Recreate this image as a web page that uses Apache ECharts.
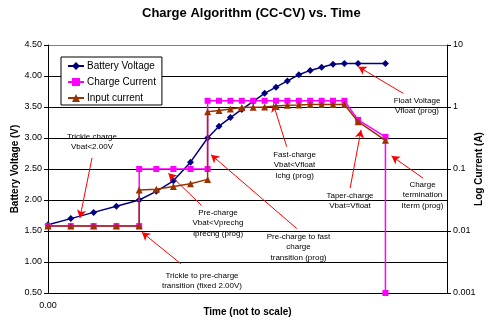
<!DOCTYPE html>
<html>
<head>
<meta charset="utf-8">
<script src="https://cdn.jsdelivr.net/npm/echarts@6/dist/echarts.min.js"></script>
<style>
html,body{margin:0;padding:0;background:#fff;}
#chart{width:492px;height:324px;}
</style>
</head>
<body>
<div id="chart"></div>
<script>
// ---- data ----
var batteryTime    = [0, 1, 2, 3, 4, 4.75, 5.5, 6.25, 7, 7.5, 8, 8.5, 9, 9.5, 10, 10.5, 11, 11.5, 12, 12.5, 13, 13.6, 14.8];
var batteryVoltage = [1.60, 1.70, 1.80, 1.90, 2.00, 2.14, 2.31, 2.61, 3.00, 3.19, 3.33, 3.46, 3.59, 3.72, 3.82, 3.92, 4.02, 4.09, 4.14, 4.19, 4.20, 4.20, 4.20];

var chargeTime    = [0, 1, 2, 3, 4, 4, 4.75, 5.5, 6.25, 7, 7, 7.5, 8, 8.5, 9, 9.5, 10, 10.5, 11, 11.5, 12, 12.5, 13, 13.6, 14.8, 14.8];
var chargeCurrent = [0.012, 0.012, 0.012, 0.012, 0.012, 0.1, 0.1, 0.1, 0.1, 0.1, 1.26, 1.26, 1.26, 1.26, 1.26, 1.26, 1.26, 1.26, 1.26, 1.26, 1.26, 1.26, 1.26, 0.62, 0.33, 0.001];

var inputTime    = [0, 1, 2, 3, 4, 4, 4.75, 5.5, 6.25, 7, 7, 7.5, 8, 8.5, 9, 9.5, 10, 10.5, 11, 11.5, 12, 12.5, 13, 13.6, 14.8];
var inputCurrent = [0.012, 0.012, 0.012, 0.012, 0.012, 0.046, 0.047, 0.052, 0.058, 0.068, 0.84, 0.88, 0.93, 0.98, 0.99, 1.00, 1.04, 1.07, 1.08, 1.10, 1.10, 1.10, 1.10, 0.58, 0.29];

var seriesNames = ['Battery Voltage', 'Charge Current', 'Input current'];
var voltageTicks = [0.5, 4.5, 0.5]; // min, max, step
var currentTicks = [0.001, 10];
var timeRange = [0, 17.5];

// annotation arrows in data coordinates [time, volts] : from -> to
var arrowFrom = [[1.93, 2.68], [6.74, 1.91], [5.83, 0.97], [10.91, 1.54], [10.47, 2.86], [15.58, 3.72], [13.25, 2.19], [16.46, 2.35]];
var arrowTo   = [[1.40, 1.71], [5.28, 2.43], [4.12, 1.48], [7.15, 2.73], [9.88, 3.55], [13.61, 4.15], [13.73, 3.13], [15.07, 2.71]];
var noteTexts = [
  'Trickle charge\nVbat<2.00V',
  'Pre-charge\nVbat<Vprechg\nIprechg (prog)',
  'Trickle to pre-charge\ntransition (fixed 2.00V)',
  'Pre-charge to fast\ncharge\ntransition (prog)',
  'Fast-charge\nVbat<Vfloat\nIchg (prog)',
  'Float Voltage\nVfloat (prog)',
  'Taper-charge\nVbat=Vfloat',
  'Charge\ntermination\nIterm (prog)'
];

function zip(xs, ys){ return xs.map(function(x,i){ return [x, ys[i]]; }); }

var FONT = '"Liberation Sans", Arial, sans-serif';
var chart = echarts.init(document.getElementById('chart'), null, {renderer:'canvas'});

// note text placement (layout only)
var notePos = [[92,131.5],[218,207.5],[202,270.5],[298.5,231.5],[294.5,149.5],[417,95.5],[350,190.5],[422.5,179.5]];

var graphics = noteTexts.map(function(t, i){
  return {
    type: 'text', x: notePos[i][0], y: notePos[i][1], z: 100, silent: true,
    style: { text: t, fill: '#000', font: '8px ' + FONT, align: 'center', verticalAlign: 'top', lineHeight: 10.5 }
  };
});

var arrowData = arrowFrom.map(function(f, i){ return [{coord: f}, {coord: arrowTo[i]}]; });

var option = {
  animation: false,
  backgroundColor: '#fff',
  title: {
    text: 'Charge Algorithm (CC-CV) vs. Time',
    left: 142, top: 7, padding: 0,
    textStyle: { fontFamily: FONT, fontSize: 13, fontWeight: 'bold', color: '#000' }
  },
  legend: {
    orient: 'vertical', left: 61, top: 57,
    padding: [4, 6, 2, 6],
    itemWidth: 16, itemHeight: 10, itemGap: 6,
    borderColor: '#000', borderWidth: 1, backgroundColor: '#fff',
    textStyle: { fontFamily: FONT, fontSize: 10, color: '#000', padding: [0,0,0,-2] },
    data: seriesNames
  },
  grid: { left: 48, right: 45, top: 45, bottom: 31, containLabel: false, outerBoundsMode: 'none' },
  xAxis: {
    type: 'value', min: timeRange[0], max: timeRange[1], interval: timeRange[1],
    name: 'Time (not to scale)', nameLocation: 'middle', nameGap: 14.5, nameMoveOverlap: false,
    nameTextStyle: { fontFamily: FONT, fontSize: 10, fontWeight: 'bold', color: '#000' },
    axisLine: { onZero: false, lineStyle: { color: '#000', width: 1 } },
    axisTick: { show: false },
    splitLine: { show: false },
    axisLabel: { fontFamily: FONT, fontSize: 9, color: '#000', margin: 8,
      formatter: function(v){ return v === 0 ? '0.00' : ''; } }
  },
  yAxis: [
    {
      type: 'value', min: voltageTicks[0], max: voltageTicks[1], interval: voltageTicks[2],
      name: 'Battery Voltage (V)', nameLocation: 'middle', nameGap: 28, nameMoveOverlap: false,
      nameTextStyle: { fontFamily: FONT, fontSize: 10, fontWeight: 'bold', color: '#000' },
      axisLine: { show: true, lineStyle: { color: '#000', width: 1 } },
      axisTick: { show: true, length: 4, lineStyle: { color: '#000' } },
      axisLabel: { fontFamily: FONT, fontSize: 9, color: '#000', margin: 6,
        formatter: function(v){ return v.toFixed(2); } },
      splitLine: { show: true, lineStyle: { color: ['#000','#000','#000','#000','#000','#000','#000','#000','#808080'], width: 1 } }
    },
    {
      type: 'log', logBase: 10, min: currentTicks[0], max: currentTicks[1],
      name: 'Log Current (A)', nameLocation: 'middle', nameGap: 27, nameRotate: 90, nameMoveOverlap: false,
      nameTextStyle: { fontFamily: FONT, fontSize: 10, fontWeight: 'bold', color: '#000' },
      axisLine: { show: true, lineStyle: { color: '#000', width: 1 } },
      axisTick: { show: true, length: 4, lineStyle: { color: '#000' } },
      axisLabel: { fontFamily: FONT, fontSize: 9, color: '#000', margin: 6,
        formatter: function(v){ return v >= 1 ? String(Math.round(v)) : Number(v).toPrecision(1); } },
      splitLine: { show: false }
    }
  ],
  series: [
    {
      name: seriesNames[0], type: 'line', yAxisIndex: 0,
      data: zip(batteryTime, batteryVoltage),
      symbol: 'diamond', symbolSize: 7,
      itemStyle: { color: '#000080' }, lineStyle: { color: '#000080', width: 1.5 },
      z: 3
    },
    {
      name: seriesNames[1], type: 'line', yAxisIndex: 1,
      data: zip(chargeTime, chargeCurrent),
      symbol: 'rect', symbolSize: 6,
      itemStyle: { color: '#FF00FF' }, lineStyle: { color: '#FF00FF', width: 1.5 },
      z: 4
    },
    {
      name: seriesNames[2], type: 'line', yAxisIndex: 1,
      data: zip(inputTime, inputCurrent),
      symbol: 'triangle', symbolSize: 7,
      itemStyle: { color: '#993300' }, lineStyle: { color: '#993300', width: 1.5 },
      z: 5
    },
    {
      name: 'notes', type: 'line', yAxisIndex: 0, data: [], silent: true, z: 6,
      markLine: {
        silent: true, animation: false,
        symbol: ['none', 'arrow'], symbolSize: [7, 8],
        label: { show: false },
        lineStyle: { color: '#FF0000', width: 1, type: 'solid' },
        emphasis: { disabled: true },
        data: arrowData
      }
    }
  ],
  graphic: graphics
};
chart.setOption(option);
</script>
</body>
</html>
